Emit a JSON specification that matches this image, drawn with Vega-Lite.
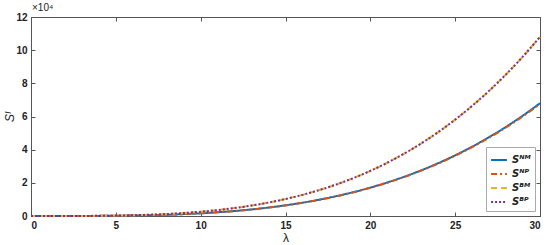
{
  "$schema": "https://vega.github.io/schema/vega-lite/v6.json",
  "autosize": {"type": "none"},
  "padding": {"left": 31, "top": 17, "right": 10, "bottom": 29},
  "width": 509,
  "height": 199,
  "background": "white",
  "config": {
    "view": {"stroke": "#555", "strokeWidth": 1},
    "font": "Liberation Sans",
    "axis": {
      "grid": false,
      "domainColor": "#555",
      "tickColor": "#555",
      "tickSize": -4,
      "labelPadding": 8,
      "labelFont": "Liberation Sans",
      "labelFontWeight": "bold",
      "labelFontSize": 10,
      "labelColor": "#222",
      "titleFont": "Liberation Sans",
      "titleFontWeight": "normal",
      "titleColor": "#222"
    }
  },
  "title": {
    "text": "×10⁴",
    "anchor": "start",
    "frame": "group",
    "fontSize": 10,
    "fontWeight": "normal",
    "color": "#222",
    "offset": -1,
    "dx": 1
  },
  "data": {
    "values": [
      {"l": 0, "NM": 0, "NP": 0, "BM": 0, "BP": 0},
      {"l": 1, "NM": 1, "NP": 1, "BM": 1, "BP": 1},
      {"l": 2, "NM": 7, "NP": 7, "BM": 11, "BP": 11},
      {"l": 3, "NM": 27, "NP": 27, "BM": 43, "BP": 43},
      {"l": 4, "NM": 72, "NP": 71, "BM": 114, "BP": 114},
      {"l": 5, "NM": 154, "NP": 153, "BM": 244, "BP": 244},
      {"l": 6, "NM": 286, "NP": 284, "BM": 454, "BP": 454},
      {"l": 7, "NM": 482, "NP": 479, "BM": 766, "BP": 766},
      {"l": 8, "NM": 760, "NP": 755, "BM": 1206, "BP": 1206},
      {"l": 9, "NM": 1134, "NP": 1126, "BM": 1801, "BP": 1801},
      {"l": 10, "NM": 1623, "NP": 1612, "BM": 2578, "BP": 2578},
      {"l": 11, "NM": 2243, "NP": 2227, "BM": 3563, "BP": 3563},
      {"l": 12, "NM": 3017, "NP": 2996, "BM": 4792, "BP": 4792},
      {"l": 13, "NM": 3962, "NP": 3934, "BM": 6292, "BP": 6292},
      {"l": 14, "NM": 5098, "NP": 5062, "BM": 8097, "BP": 8097},
      {"l": 15, "NM": 6442, "NP": 6397, "BM": 10231, "BP": 10231},
      {"l": 16, "NM": 8024, "NP": 7968, "BM": 12744, "BP": 12744},
      {"l": 17, "NM": 9860, "NP": 9791, "BM": 15660, "BP": 15660},
      {"l": 18, "NM": 11975, "NP": 11891, "BM": 19019, "BP": 19019},
      {"l": 19, "NM": 14389, "NP": 14288, "BM": 22853, "BP": 22853},
      {"l": 20, "NM": 17129, "NP": 17009, "BM": 27205, "BP": 27205},
      {"l": 21, "NM": 20223, "NP": 20081, "BM": 32119, "BP": 32119},
      {"l": 22, "NM": 23684, "NP": 23518, "BM": 37616, "BP": 37616},
      {"l": 23, "NM": 27554, "NP": 27361, "BM": 43762, "BP": 43762},
      {"l": 24, "NM": 31844, "NP": 31621, "BM": 50576, "BP": 50576},
      {"l": 25, "NM": 36584, "NP": 36328, "BM": 58104, "BP": 58104},
      {"l": 26, "NM": 41806, "NP": 41513, "BM": 66398, "BP": 66398},
      {"l": 27, "NM": 47525, "NP": 47192, "BM": 75481, "BP": 75481},
      {"l": 28, "NM": 53781, "NP": 53405, "BM": 85417, "BP": 85417},
      {"l": 29, "NM": 60595, "NP": 60171, "BM": 96239, "BP": 96239},
      {"l": 30, "NM": 68000, "NP": 67524, "BM": 108000, "BP": 108000}
    ]
  },
  "transform": [{"fold": ["NM", "NP", "BM", "BP"], "as": ["series", "value"]}],
  "layer": [
    {
      "mark": {"type": "line", "strokeWidth": 2, "interpolate": "monotone"},
      "encoding": {
        "x": {
          "field": "l", "type": "quantitative",
          "scale": {"domain": [0, 30], "nice": false},
          "axis": {"values": [0, 5, 10, 15, 20, 25, 30], "title": "λ", "titleFontSize": 12, "titlePadding": 2}
        },
        "y": {
          "field": "value", "type": "quantitative",
          "scale": {"domain": [0, 120000], "nice": false},
          "axis": {
            "values": [0, 20000, 40000, 60000, 80000, 100000, 120000],
            "labelExpr": "format(datum.value / 10000, 'd')",
            "title": "Sᴵ", "titleFontSize": 12, "titleFontStyle": "italic", "titlePadding": -1
          }
        },
        "color": {
          "field": "series", "type": "nominal",
          "scale": {"domain": ["NM", "NP", "BM", "BP"], "range": ["#0072BD", "#D95319", "#EDB120", "#7E2F8E"]},
          "legend": {
            "title": null,
            "orient": "bottom-right",
            "offset": 5,
            "fillColor": "white",
            "strokeColor": "#aaa",
            "padding": 4,
            "symbolType": "stroke",
            "symbolSize": 250,
            "symbolStrokeWidth": 2,
            "labelFont": "DejaVu Sans",
            "labelFontStyle": "italic",
            "labelFontWeight": "bold",
            "labelFontSize": 10,
            "labelColor": "#222",
            "rowPadding": 0,
            "labelExpr": "datum.label == 'NM' ? 'Sᴺᴹ' : datum.label == 'NP' ? 'Sᴺᴾ' : datum.label == 'BM' ? 'Sᴮᴹ' : 'Sᴮᴾ'"
          }
        },
        "strokeDash": {
          "field": "series", "type": "nominal",
          "scale": {"domain": ["NM", "NP", "BM", "BP"], "range": [[1, 0], [6, 3, 2, 3], [6, 4], [2, 2]]},
          "legend": {
            "title": null,
            "orient": "bottom-right",
            "offset": 5,
            "fillColor": "white",
            "strokeColor": "#aaa",
            "padding": 4,
            "symbolType": "stroke",
            "symbolSize": 250,
            "symbolStrokeWidth": 2,
            "labelFont": "DejaVu Sans",
            "labelFontStyle": "italic",
            "labelFontWeight": "bold",
            "labelFontSize": 10,
            "labelColor": "#222",
            "rowPadding": 0,
            "labelExpr": "datum.label == 'NM' ? 'Sᴺᴹ' : datum.label == 'NP' ? 'Sᴺᴾ' : datum.label == 'BM' ? 'Sᴮᴹ' : 'Sᴮᴾ'"
          }
        }
      }
    },
    {
      "mark": {"type": "rule", "opacity": 0},
      "encoding": {
        "x": {"field": "l", "type": "quantitative", "scale": {"domain": [0, 30], "nice": false},
              "axis": {"orient": "top", "values": [0, 5, 10, 15, 20, 25, 30], "labels": false, "title": null, "domain": false}},
        "y": {"field": "value", "type": "quantitative", "scale": {"domain": [0, 120000], "nice": false},
              "axis": {"orient": "right", "values": [0, 20000, 40000, 60000, 80000, 100000, 120000], "labels": false, "title": null, "domain": false}}
      }
    }
  ],
  "resolve": {"axis": {"x": "independent", "y": "independent"}}
}
